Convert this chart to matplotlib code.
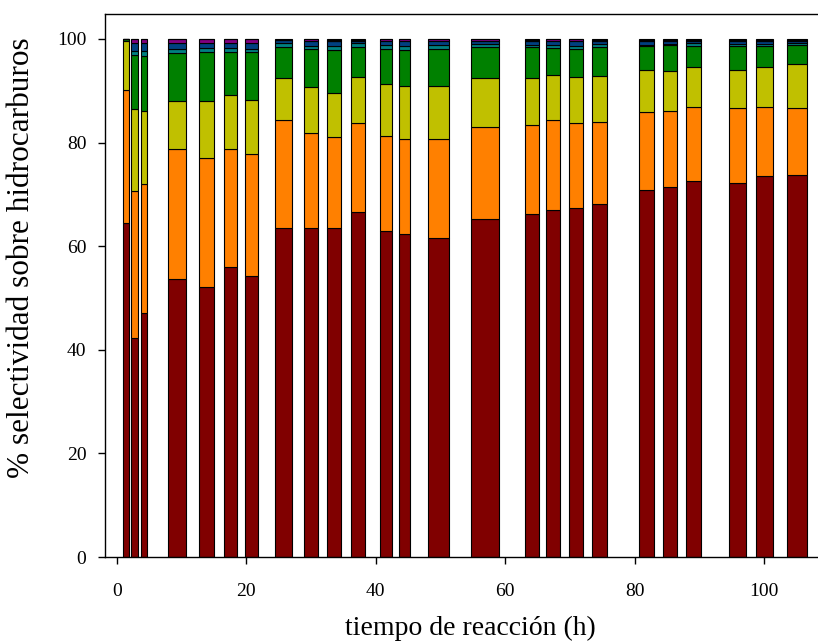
import numpy as np
import matplotlib
matplotlib.use("Agg")
import matplotlib.pyplot as plt

# Reaction times (h) and hydrocarbon selectivity fractions (%) per product group
tiempo = [1.37, 2.7, 4.1, 9.25, 13.8, 17.55, 20.8, 25.7, 30.0, 33.6, 37.25, 41.55,
          44.45, 49.7, 56.9, 64.1, 67.4, 71.0, 74.6, 81.9, 85.5, 89.1, 95.9, 100.1, 105.1]

serie_1 = [64.5, 42.3, 47.0, 53.7, 52.2, 56.0, 54.3, 63.5, 63.5, 63.5, 66.6, 62.9,
           62.4, 61.6, 65.3, 66.2, 67.0, 67.4, 68.1, 70.8, 71.4, 72.6, 72.2, 73.6, 73.7]
serie_2 = [25.7, 28.4, 24.9, 25.0, 24.8, 22.8, 23.4, 20.9, 18.3, 17.6, 17.1, 18.4,
           18.3, 19.0, 17.7, 17.1, 17.3, 16.3, 15.9, 15.0, 14.7, 14.2, 14.4, 13.2, 13.0]
serie_3 = [9.3, 15.7, 14.2, 9.4, 11.0, 10.4, 10.5, 8.1, 9.0, 8.5, 9.0, 10.0,
           10.2, 10.3, 9.5, 9.2, 8.8, 8.9, 8.8, 8.2, 7.7, 7.7, 7.4, 7.7, 8.4]
serie_4 = [0.5, 10.4, 10.6, 9.1, 9.5, 8.3, 9.2, 5.9, 7.2, 8.3, 5.8, 6.8,
           7.0, 7.1, 6.0, 5.9, 5.2, 5.5, 5.7, 4.6, 5.0, 4.2, 4.7, 4.1, 3.7]
serie_5 = [0.0, 0.9, 1.0, 0.9, 0.8, 0.8, 0.7, 0.8, 0.7, 0.7, 0.7, 0.7,
           0.7, 0.8, 0.5, 0.5, 0.5, 0.5, 0.5, 0.2, 0.2, 0.5, 0.3, 0.4, 0.4]
serie_6 = [0.0, 1.6, 1.6, 1.2, 1.0, 1.0, 1.1, 0.5, 0.9, 1.0, 0.4, 0.8,
           1.0, 0.8, 0.6, 0.7, 0.7, 1.0, 0.6, 0.8, 0.5, 0.3, 0.6, 0.6, 0.4]
serie_7 = [0.0, 0.7, 0.7, 0.7, 0.7, 0.7, 0.8, 0.0, 0.4, 0.0, 0.0, 0.4,
           0.4, 0.4, 0.4, 0.0, 0.5, 0.4, 0.0, 0.0, 0.0, 0.0, 0.0, 0.0, 0.0]
serie_8 = [0.0, 0.0, 0.0, 0.0, 0.0, 0.0, 0.0, 0.3, 0.0, 0.4, 0.4, 0.0,
           0.0, 0.0, 0.0, 0.4, 0.0, 0.0, 0.4, 0.4, 0.5, 0.5, 0.4, 0.4, 0.4]

# Bar widths (h) for each sampling interval
anchos = [0.88, 1.0, 0.93, 2.7, 2.3, 1.95, 1.9, 2.6, 2.2, 2.2, 2.2, 1.8,
          1.75, 3.2, 4.3, 2.1, 2.1, 2.2, 2.3, 2.3, 2.2, 2.3, 2.5, 2.6, 3.0]

series = [serie_1, serie_2, serie_3, serie_4, serie_5, serie_6, serie_7, serie_8]
colores = ["#800000", "#FF8000", "#C0C000", "#008000", "#008080", "#004080",
           "#800080", "#000000"]

plt.rcParams["font.family"] = ["Liberation Serif", "DejaVu Serif"]

fig = plt.figure(figsize=(8.18, 6.44), dpi=100)
ax = fig.add_axes([104.5 / 818, 1 - 557 / 644, 1 - 104.5 / 818, (557 - 13.5) / 644])

base = np.zeros(len(tiempo))
for valores, color in zip(series, colores):
    v = np.array(valores)
    ax.bar(tiempo, v, width=anchos, bottom=base, color=color,
           edgecolor="black", linewidth=0.8, align="center")
    base += v

ax.set_xlim(-1.93, 108.35)
ax.set_ylim(0, 104.9)
ax.set_xticks([0, 20, 40, 60, 80, 100])
ax.set_yticks([0, 20, 40, 60, 80, 100])
ax.tick_params(direction="out", length=5, width=1, labelsize=14)
ax.tick_params(axis="x", pad=14)
ax.tick_params(axis="y", pad=8)
ax.spines["right"].set_visible(False)
for s in ("left", "bottom", "top"):
    ax.spines[s].set_linewidth(1.0)

ax.set_xlabel("tiempo de reacción (h)", fontsize=20)
ax.set_ylabel("% selectividad sobre hidrocarburos", fontsize=22.5)
ax.xaxis.set_label_coords((470 - 104.5) / 713.5, -(628 - 557) / 543.5)
ax.yaxis.set_label_coords(-(104.5 - 22) / 713.5, (557 - 258) / 543.5)
ax.xaxis.label.set_verticalalignment("center")
ax.yaxis.label.set_verticalalignment("center")

fig.savefig("out.png", dpi=100)
